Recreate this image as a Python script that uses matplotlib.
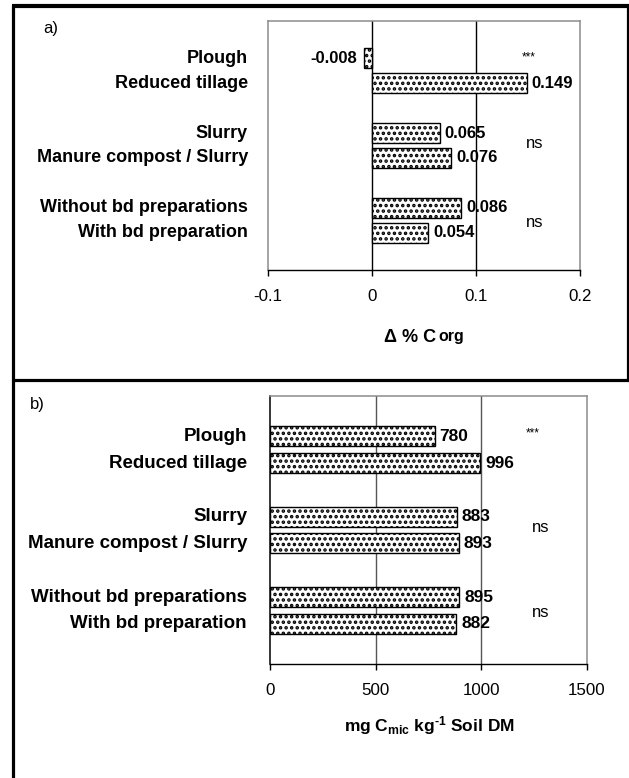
import matplotlib
matplotlib.use("Agg")
import matplotlib.pyplot as plt
from matplotlib.lines import Line2D
from matplotlib.offsetbox import TextArea, HPacker, AnnotationBbox

plt.rcParams['font.family'] = ['Liberation Sans', 'DejaVu Sans']
plt.rcParams['mathtext.fontset'] = 'custom'
plt.rcParams['mathtext.bf'] = 'Liberation Sans:bold'
plt.rcParams['mathtext.rm'] = 'Liberation Sans:bold'
plt.rcParams['mathtext.it'] = 'Liberation Sans:bold'
plt.rcParams['hatch.linewidth'] = 1.7

# ---------------- data ----------------
categories = ["Plough", "Reduced tillage",
              "Slurry", "Manure compost / Slurry",
              "Without bd preparations", "With bd preparation"]
groups = [0, 0, 1, 1, 2, 2]
corg_delta = [-0.008, 0.149, 0.065, 0.076, 0.086, 0.054]
cmic = [780, 996, 883, 893, 895, 882]
group_tests = ["***", "ns", "ns"]
xticks_a = [-0.1, 0, 0.1, 0.2]
xticklabels_a = ["-0.1", "0", "0.1", "0.2"]
xticks_b = [0, 500, 1000, 1500]
xticklabels_b = ["0", "500", "1000", "1500"]

W, H = 629, 778
fig = plt.figure(figsize=(W / 100, H / 100), dpi=100)


def px_axes(l, t, r, b):
    return fig.add_axes([l / W, 1 - b / H, (r - l) / W, (b - t) / H])


# positions: each group of 2 bars, one empty slot between groups
pos = [i + g for i, g in enumerate(groups)]


def fline(x0, y0, x1, y1, lw=2.3):
    fig.add_artist(Line2D([x0 / W, x1 / W], [1 - y0 / H, 1 - y1 / H],
                          color='black', lw=lw, solid_capstyle='butt'))

fline(13, 5, 13, H)
fline(12, 5.5, W, 5.5, lw=3)
fline(12, 380, W, 380)
fline(627.5, 5, 627.5, 380)


def style_axes(ax, left_color):
    for s in ['top', 'right']:
        ax.spines[s].set_color('#8c8c8c')
        ax.spines[s].set_linewidth(1.1)
    ax.spines['left'].set_color(left_color)
    ax.spines['left'].set_linewidth(1.1)
    ax.spines['bottom'].set_color('black')
    ax.spines['bottom'].set_linewidth(1.0)
    ax.set_yticks([])
    ax.tick_params(axis='x', direction='out', length=4.5, width=1.0,
                   pad=9, labelsize=12.2)
    ax.set_ylim(8.5, -1.5)


def draw_panel(ax, values, bar_h, fmt, label_fs, cat_fs, cat_gap):
    ax.barh(pos, values, height=bar_h, color='white', edgecolor='black',
            hatch='...', linewidth=1.0, zorder=3)
    for p, v in zip(pos, values):
        if v < 0:
            ax.annotate(fmt(v), (v, p), xytext=(-4.5, 0), textcoords='offset points',
                        ha='right', va='center', fontsize=label_fs,
                        fontweight='bold', zorder=5)
        else:
            ax.annotate(fmt(v), (v, p), xytext=(3.5, 0), textcoords='offset points',
                        ha='left', va='center', fontsize=label_fs,
                        fontweight='bold', zorder=5)
    for p, c in zip(pos, categories):
        ax.annotate(c, (0, p), xycoords=('axes fraction', 'data'),
                    xytext=(-cat_gap, 0), textcoords='offset pixels',
                    ha='right', va='center', fontsize=cat_fs,
                    fontweight='bold', annotation_clip=False)


def group_marks(ax, ys, xs, sizes):
    for t, y, x, s in zip(group_tests, ys, xs, sizes):
        ax.text(x, y, t, transform=ax.transAxes, ha='center', va='center',
                fontsize=s)


# ---------------- panel a ----------------
axa = px_axes(268, 21, 580, 270)
axa.set_xlim(-0.1, 0.2)
style_axes(axa, '#8c8c8c')
axa.set_xticks(xticks_a)
axa.set_xticklabels(xticklabels_a)
for g in [0, 0.1]:
    axa.axvline(g, color='black', lw=1.0, zorder=1)
draw_panel(axa, corg_delta, 0.8, lambda v: f"{v:.3f}", 12, 13, 20)
group_marks(axa, [0.855, 0.51, 0.19], [0.835, 0.855, 0.855], [8.5, 12, 12])
fig.text(43 / W, 1 - 28 / H, "a)", fontsize=12, ha='left', va='center')

ta1 = TextArea("Δ % C", textprops=dict(fontsize=13, fontweight='bold'))
ta2 = TextArea("org", textprops=dict(fontsize=11.5, fontweight='bold'))
hp = HPacker(children=[ta1, ta2], align='baseline', pad=0, sep=2)
ab = AnnotationBbox(hp, (424 / W, 1 - 337 / H), xycoords='figure fraction',
                    box_alignment=(0.5, 0.5), frameon=False)
fig.add_artist(ab)

# ---------------- panel b ----------------
axb = px_axes(270, 396, 587, 664)
axb.set_xlim(0, 1500)
style_axes(axb, 'black')
axb.set_xticks(xticks_b)
axb.set_xticklabels(xticklabels_b)
for g in [500, 1000]:
    axb.axvline(g, color='#555555', lw=1.0, zorder=1)
draw_panel(axb, cmic, 0.75, lambda v: f"{v:d}", 12.5, 13.5, 23)
group_marks(axb, [0.862, 0.511, 0.194], [0.83, 0.855, 0.855], [8.5, 12, 12])
fig.text(30 / W, 1 - 405 / H, "b)", fontsize=12, ha='left', va='center')
fig.text(429 / W, 1 - 726 / H,
         r"mg C$_{\rm mic}$ kg$^{\text{-1}}$ Soil DM",
         fontsize=12.5, fontweight='bold', ha='center', va='center')

fig.savefig("out.png", dpi=100)
